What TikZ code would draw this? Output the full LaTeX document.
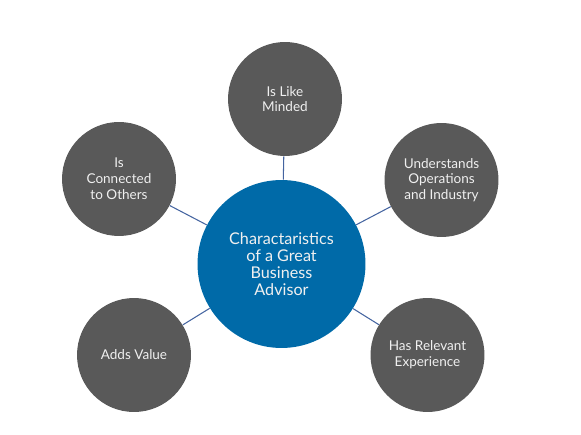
\documentclass[tikz,border=0pt]{standalone}
\usepackage{fontspec}
\setmainfont{Lato}
\definecolor{hubblue}{RGB}{0,106,168}
\definecolor{leafgray}{RGB}{89,89,89}
\definecolor{linkblue}{RGB}{68,100,160}
\begin{document}
\begin{tikzpicture}[x=0.02cm,y=-0.02cm,
	leaf/.style={circle,fill=leafgray,text=white!94!black,minimum size=2.28cm,inner sep=0pt,
		align=center,font=\fontsize{7.7}{9}\selectfont},
	hub/.style={circle,fill=hubblue,text=white!94!black,minimum size=3.36cm,inner sep=0pt,
		align=center,font=\fontsize{9.2}{9.8}\selectfont},
	link/.style={linkblue,line width=0.6pt}]
	\useasboundingbox (0,0) rectangle (581,435);
	
	\node[hub] (hub) at (281.5,264) {Charactaristics\\of a Great\\Business\\Advisor};
	
	\node[leaf] (like) at (285,99) {Is Like\\Minded};
	\node[leaf] (ops) at (441.5,180) {Understands\\Operations\\and Industry};
	\node[leaf] (exp) at (427.5,355) {Has Relevant\\Experience};
	\node[leaf] (value) at (134,355) {Adds Value};
	\node[leaf] (conn) at (119,179) {Is\\Connected\\to Others};
	
	% spokes
	\foreach \n in {like,ops,exp,value,conn}
		\draw[link] (hub) -- (\n);
\end{tikzpicture}
\end{document}
